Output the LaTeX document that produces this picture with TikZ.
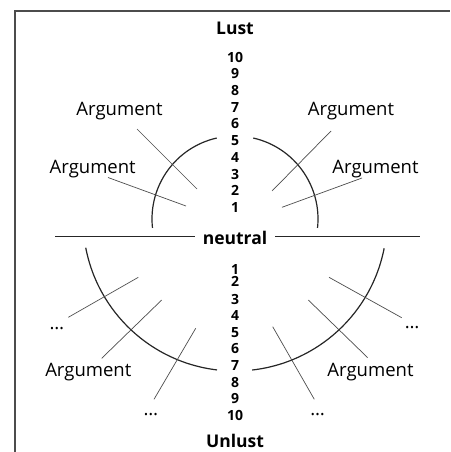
\documentclass[tikz,border=0pt]{standalone}
\usepackage{fontspec}
\setmainfont{Open Sans}
\begin{document}
\begin{tikzpicture}[x=1pt,y=-1pt,
  lbl/.style={font=\fontsize{18.5}{18}\selectfont, inner sep=0pt, anchor=base},
  num/.style={font=\bfseries\fontsize{14}{14}\selectfont, inner sep=0pt},
  head/.style={font=\bfseries\fontsize{17.5}{17}\selectfont, inner sep=0pt, anchor=base},
  bigarc/.style={line width=1.2pt, draw=black!85},
  ray/.style={line width=0.7pt, draw=black!70},
  axis/.style={line width=1pt, draw=black!85},
  frame/.style={line width=1.3pt, draw=black!70}]
\useasboundingbox (0,0) rectangle (450,452);
% frame
\coordinate (fb) at (15,452); \coordinate (ftl) at (15,11); \coordinate (ftr) at (450,11);
\draw[frame] (fb) -- (ftl) -- (ftr);
% headings
\node[head] (lust) at (235,35) {Lust};
\node[head] (unlust) at (235,447.5) {Unlust};
\node[head] (neutral) at (235,244) {neutral};
% upper scale
\foreach \n/\y in {10/57.3,9/74,8/90.7,7/107.3,6/124,5/140.7,4/157.3,3/174,2/190.7,1/207.3}
  \node[num] (u\n) at (235,\y) {\n};
% lower scale
\foreach \n/\y in {1/269,2/281.7,3/299,4/315.7,5/332.3,6/348.7,7/365.3,8/382.3,9/399,10/415.7}
  \node[num] (d\n) at (235,\y) {\n};
% neutral axis
\coordinate (hl1) at (55,236); \coordinate (hl2) at (195,236);
\coordinate (hr1) at (275,236); \coordinate (hr2) at (420,236);
\draw[axis] (hl1) -- (hl2);
\draw[axis] (hr1) -- (hr2);
% arcs
\coordinate (O) at (235,219);
\draw[bigarc] ([shift={(102.7:83pt)}]O) arc[start angle=102.7, end angle=186.2, radius=83pt];
\draw[bigarc] ([shift={(77.3:83pt)}]O) arc[start angle=77.3, end angle=-6.2, radius=83pt];
\draw[bigarc] ([shift={(190.9:152pt)}]O) arc[start angle=190.9, end angle=263.2, radius=152pt];
\draw[bigarc] ([shift={(276.5:152pt)}]O) arc[start angle=276.5, end angle=348.9, radius=152pt];
% labels
\node[lbl] (a1) at (119.5,115) {Argument};
\node[lbl] (a2) at (92.7,173) {Argument};
\node[lbl] (a3) at (351,115) {Argument};
\node[lbl] (a4) at (375.5,173) {Argument};
\node[lbl] (a5) at (88.3,376) {Argument};
\node[lbl] (a6) at (370.5,376) {Argument};
\node[lbl] (e1) at (57,329) {\dots};
\node[lbl] (e2) at (151,415.5) {\dots};
\node[lbl] (e3) at (317.5,415.5) {\dots};
\node[lbl] (e4) at (412,328.5) {\dots};
% rays
\coordinate (r1a) at (137,129);   \coordinate (r1b) at (197,189);
\coordinate (r2a) at (108,177.5); \coordinate (r2b) at (186,206);
\coordinate (r3a) at (331,131);   \coordinate (r3b) at (272,191);
\coordinate (r4a) at (362,178);   \coordinate (r4b) at (282,207.3);
\coordinate (r5a) at (138.3,277.3); \coordinate (r5b) at (68.3,317.3);
\coordinate (r6a) at (161.7,300);   \coordinate (r6b) at (101.7,358.3);
\coordinate (r7a) at (195.7,328.3); \coordinate (r7b) at (154,399.3);
\coordinate (r8a) at (329,277.3);   \coordinate (r8b) at (401.7,317.7);
\coordinate (r9a) at (308.3,300);   \coordinate (r9b) at (367.7,357.7);
\coordinate (r10a) at (272.7,326.7); \coordinate (r10b) at (314.3,399.3);
\foreach \i in {1,...,10} \draw[ray] (r\i a) -- (r\i b);
\end{tikzpicture}
\end{document}
